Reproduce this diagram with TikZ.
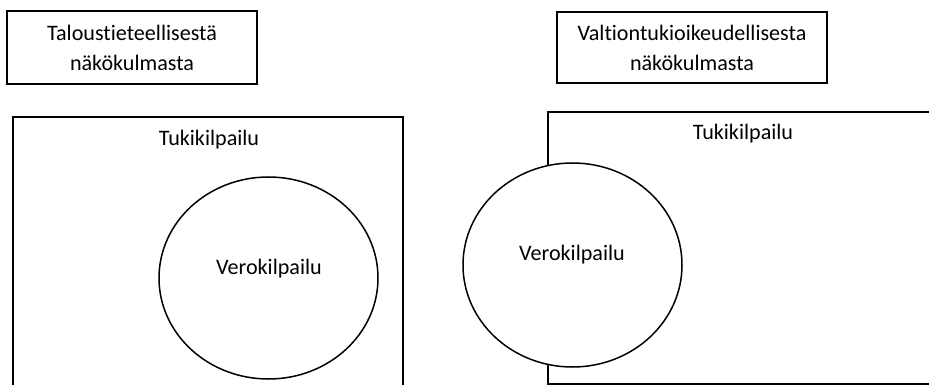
\documentclass[tikz,border=0pt]{standalone}
\usepackage{fontspec}
\setmainfont[Ligatures={NoCommon}]{Carlito}
\usetikzlibrary{shapes.geometric}
\begin{document}
\begin{tikzpicture}[x=1pt,y=-1pt,
  every node/.style={font=\fontsize{22.1}{30}\selectfont},
  line/.style={draw=black,line width=1.5pt},
  titlebox/.style={line,rectangle,inner sep=0pt,align=center},
  venn/.style={line,ellipse,fill=white,inner sep=0pt},
  lbl/.style={inner sep=0pt,anchor=center}]
\useasboundingbox (0,0) rectangle (929,385);
% top boxes
\node[titlebox,minimum width=250pt,minimum height=73pt] (tbl) at (132,47.5) {Taloustieteellisestä\\näkökulmasta};
\node[titlebox,minimum width=270pt,minimum height=71pt] (tbr) at (692,47.5) {Valtiontukioikeudellisesta\\näkökulmasta};
% left big frame
\coordinate (la) at (13,386);
\coordinate (lb) at (13,117);
\coordinate (lc) at (403,117);
\coordinate (ld) at (403,386);
\draw[line] (la) -- (lb) -- (lc) -- (ld);
\node[lbl] (tkl) at (209,140) {Tukikilpailu};
\node[venn,minimum width=219pt,minimum height=202pt] (vl) at (268.5,278) {};
\node[lbl] (vkl) at (269,269) {Verokilpailu};
% right big frame
\coordinate (ra) at (930,112);
\coordinate (rb) at (548,112);
\coordinate (rc) at (548,384);
\coordinate (rd) at (930,384);
\draw[line] (ra) -- (rb) -- (rc) -- (rd);
\node[lbl] (tkr) at (743,134) {Tukikilpailu};
\node[venn,minimum width=219pt,minimum height=204pt] (vr) at (572.5,265) {};
\node[lbl] (vkr) at (572,255) {Verokilpailu};
\end{tikzpicture}
\end{document}
